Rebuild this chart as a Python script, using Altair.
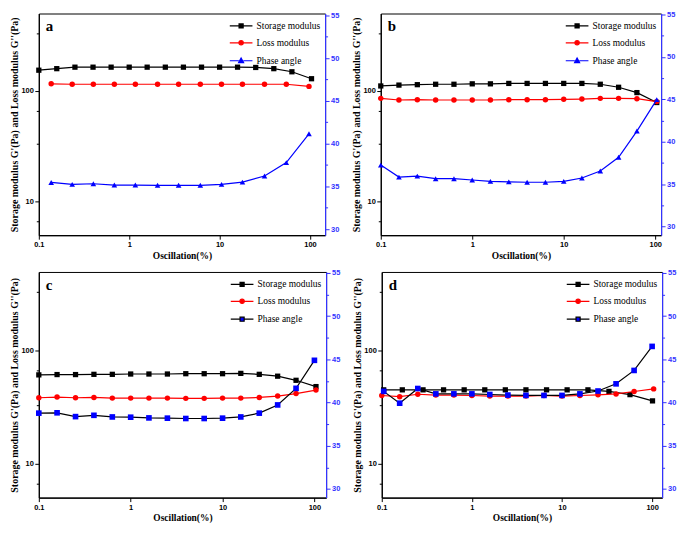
import altair as alt
import pandas as pd

NAMES = ["Storage modulus", "Loss modulus", "Phase angle"]
BLACK = "#000000"
RED = "#ff0000"
BLUE = "#0000ff"
AXBLUE = "#3333ff"

# common strain grid (0.2 decade steps)
x16 = [0.1, 0.158, 0.251, 0.398, 0.631, 1.0, 1.58, 2.51, 3.98, 6.31, 10.0, 15.8, 25.1, 39.8, 63.1, 104]

# ---------------- panel a ----------------
a_storage_x = x16
a_storage_y = [154, 159, 164, 164, 164, 164, 164, 164, 164, 164, 164, 164, 163, 159, 149, 129]
a_loss_x = [0.137, 0.234, 0.401, 0.685, 1.17, 2.06, 3.52, 6.12, 10.5, 17.9, 31.4, 54.7, 97.5]
a_loss_y = [116, 115, 115, 115, 115, 115, 115, 115, 115, 115, 115, 115, 110]
a_phase_x = a_loss_x
a_phase_y = [35.46, 35.24, 35.31, 35.16, 35.16, 35.13, 35.13, 35.13, 35.24, 35.50, 36.21, 37.78, 41.15]

# ---------------- panel b ----------------
b_storage_x = x16
b_storage_y = [111, 113, 114, 115, 115, 116, 116, 117, 117, 117, 117, 117, 115, 108, 96.7, 78.7]
b_loss_x = x16
b_loss_y = [85.8, 82.9, 83.5, 82.9, 82.9, 82.9, 82.9, 83.5, 83.5, 83.5, 84.1, 84.6, 85.8, 85.8, 85.2, 80.2]
b_phase_x = x16
b_phase_y = [37.25, 35.84, 35.95, 35.65, 35.65, 35.50, 35.34, 35.27, 35.23, 35.23, 35.34, 35.73, 36.56, 38.17, 41.26, 44.96]

# ---------------- panel c ----------------
c_storage_x = x16
c_storage_y = [61.2, 61.6, 61.6, 61.9, 61.9, 62.3, 62.3, 62.3, 62.7, 62.7, 62.7, 63.1, 61.9, 59.6, 54.8, 48.2]
c_loss_x = x16
c_loss_y = [38.4, 38.9, 38.4, 38.6, 38.1, 38.1, 38.1, 38.1, 37.9, 37.9, 38.1, 38.1, 38.6, 39.7, 41.8, 44.9]
c_phase_x = [0.1, 0.158, 0.251, 0.398, 0.631, 1.0, 1.58, 2.51, 3.98, 6.31, 10.0, 15.8, 25.1, 39.8, 63.1, 100]
c_phase_y = [38.77, 38.81, 38.37, 38.52, 38.33, 38.30, 38.22, 38.19, 38.15, 38.15, 38.19, 38.33, 38.77, 39.72, 41.64, 44.88]

# ---------------- panel d ----------------
d_storage_x = [0.105, 0.169, 0.287, 0.485, 0.821, 1.39, 2.35, 3.98, 6.74, 11.4, 19.4, 33.2, 56.8, 101]
d_storage_y = [45.1, 45.1, 45.1, 45.1, 45.1, 45.1, 45.1, 45.1, 45.1, 45.1, 45.1, 43.7, 40.9, 36.0]
d_loss_x = x16
d_loss_y = [40.2, 39.2, 41.2, 40.5, 40.5, 40.2, 39.7, 39.7, 39.7, 40.2, 39.7, 40.2, 40.7, 41.5, 43.6, 46.0]
d_phase_x = [0.105, 0.158, 0.251, 0.398, 0.631, 1.0, 1.58, 2.51, 3.98, 6.31, 10.0, 15.8, 25.1, 39.8, 63.1, 100]
d_phase_y = [41.29, 39.92, 41.62, 41.0, 41.0, 41.0, 40.93, 40.86, 40.82, 40.82, 40.82, 41.0, 41.33, 42.16, 43.71, 46.49]

X_TICKS = [0.1, 1, 10, 100]
LEFT_TICKS = [6.67, 10, 33.3, 66.7, 100, 333]
RIGHT_TICKS = [30, 32.5, 35, 37.5, 40, 42.5, 45, 47.5, 50, 52.5, 55]

# legend symbols: short line with the marker in the middle
SYM_SQUARE = "M-1,0H-0.2M0.2,0H1M-0.18,-0.18H0.18V0.18H-0.18Z"
SYM_CIRCLE = "M-1,0H-0.2M0.2,0H1M0.19,0A0.19,0.19,0,1,1,-0.19,0A0.19,0.19,0,1,1,0.19,0Z"
SYM_TRI = "M-1,0H-0.2M0.2,0H1M0,-0.24L0.22,0.16L-0.22,0.16Z"


def make_panel(letter, xmax, rdom, width, height, storage, loss, phase, phase_line, phase_shape, phase_sym):
    x_axis = alt.Axis(values=X_TICKS, format="~g", tickSize=4, labelFlush=False,
                      title="Oscillation(%)", grid=False)
    xenc = alt.X("x:Q", scale=alt.Scale(type="log", domain=[0.1, xmax], nice=False), axis=x_axis)
    left_axis = alt.Axis(values=LEFT_TICKS, format="d",
                         labelExpr="(datum.value == 10 || datum.value == 100) ? datum.label : ''",
                         tickSize={"condition": {"test": "datum.value == 10 || datum.value == 100", "value": 4}, "value": 2.5},
                         title="Storage modulus G'(Pa) and Loss modulus G''(Pa)", grid=False)
    yl = alt.Y("y:Q", scale=alt.Scale(type="log", domain=[5, 500], nice=False), axis=left_axis)
    right_axis = alt.Axis(values=RIGHT_TICKS, orient="right",
                          labelExpr="datum.value % 5 == 0 ? datum.label : ''",
                          tickSize={"condition": {"test": "datum.value % 5 == 0", "value": 4}, "value": 2.5},
                          domainColor=AXBLUE, tickColor=AXBLUE, labelColor=AXBLUE, title=None,
                          grid=False, zindex=1)
    yr = alt.Y("y:Q", scale=alt.Scale(domain=rdom, nice=False, zero=False), axis=right_axis)

    def pair(xs, ys, yenc, lcol, mcol, shape, size):
        base = alt.Chart(pd.DataFrame({"x": xs, "y": ys})).encode(x=xenc, y=yenc)
        return [base.mark_line(color=lcol, strokeWidth=1.2),
                base.mark_point(shape=shape, filled=True, color=mcol, size=size, opacity=1)]

    left_layers = []
    left_layers += pair(storage[0], storage[1], yl, BLACK, BLACK, "square", 28)
    left_layers += pair(loss[0], loss[1], yl, RED, RED, "circle", 30)

    legend = alt.Legend(title=None, orient="none", legendX=width - 97, legendY=0, padding=0,
                        labelFont="Liberation Serif", labelFontSize=9.5, labelColor="black",
                        symbolSize=520, symbolStrokeWidth=1.2, rowPadding=-5.5, labelOffset=3)
    leg = alt.Chart(pd.DataFrame({"s": NAMES})).mark_point(filled=True, clip=True, strokeWidth=1.2, opacity=1).encode(
        x=alt.value(-300), y=alt.value(-300),
        fill=alt.Fill("s:N", scale=alt.Scale(domain=NAMES, range=[BLACK, RED, BLUE]), legend=legend),
        stroke=alt.Stroke("s:N", scale=alt.Scale(domain=NAMES, range=[BLACK, RED, phase_line]), legend=legend),
        shape=alt.Shape("s:N", scale=alt.Scale(domain=NAMES, range=[SYM_SQUARE, SYM_CIRCLE, phase_sym]), legend=legend),
    )
    label = alt.Chart(pd.DataFrame({"t": [letter]})).mark_text(
        font="Liberation Serif", fontSize=15, fontWeight="bold", align="left", baseline="middle", color="black"
    ).encode(x=alt.value(7), y=alt.value(13), text="t:N")
    left_layers += [leg, label]

    right_layers = pair(phase[0], phase[1], yr, phase_line, BLUE, phase_shape, 32)

    return alt.layer(alt.layer(*left_layers), alt.layer(*right_layers)).resolve_scale(
        y="independent").properties(width=width, height=height)


pa = make_panel("a", 147, [29.3, 55.2], 288, 223, (a_storage_x, a_storage_y), (a_loss_x, a_loss_y),
                (a_phase_x, a_phase_y), BLUE, "triangle-up", SYM_TRI)
pb = make_panel("b", 116, [29.0, 55.1], 282, 223, (b_storage_x, b_storage_y), (b_loss_x, b_loss_y),
                (b_phase_x, b_phase_y), BLUE, "triangle-up", SYM_TRI)
pc = make_panel("c", 134, [29.0, 55.1], 289, 227, (c_storage_x, c_storage_y), (c_loss_x, c_loss_y),
                (c_phase_x, c_phase_y), BLACK, "square", SYM_SQUARE)
pd_ = make_panel("d", 129, [29.0, 55.1], 282, 227, (d_storage_x, d_storage_y), (d_loss_x, d_loss_y),
                 (d_phase_x, d_phase_y), BLACK, "square", SYM_SQUARE)

RES = dict(x="independent", y="independent", fill="independent", stroke="independent", shape="independent")
row1 = alt.hconcat(pa, pb, spacing=10).resolve_scale(**RES)
row2 = alt.hconcat(pc, pd_, spacing=10).resolve_scale(**RES)
chart = alt.vconcat(row1, row2, spacing=8).resolve_scale(**RES).properties(padding=0).configure_view(
    stroke="black", strokeWidth=1
).configure_axis(
    labelFont="Liberation Sans", labelFontWeight="bold", labelFontSize=7.5, labelColor="black",
    labelPadding=1.5, titleFont="Liberation Serif", titleFontWeight="bold", titleFontSize=10,
    titleColor="black", titlePadding=1.5, domainColor="black", tickColor="black", domainWidth=1.2
).configure_axisX(titleFontSize=9.5, titlePadding=2)

chart.save("out.html", embed_options={"renderer": "svg", "actions": False})
